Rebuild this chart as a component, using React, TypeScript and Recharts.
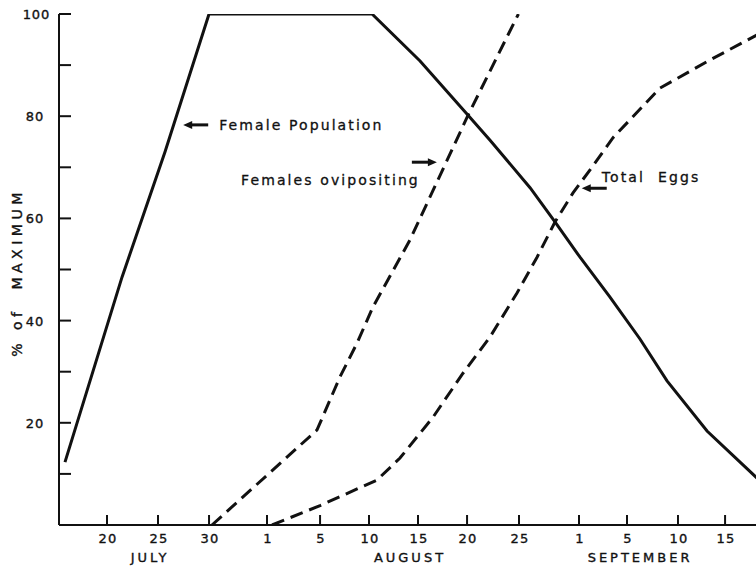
import React from "react";
import { LineChart, Line, XAxis, YAxis, ReferenceDot } from "recharts";

// x runs in "axis units" of the original drawing (about one day each,
// but the hand-drawn tick spacing is uneven, so ticks carry their own position)
const dayTicks = [4.74, 9.77, 14.81, 20.53, 25.77, 30.6, 35.44, 40.28, 45.41, 51.33, 56.07, 61.1, 65.75];
const dayLabels = ["20", "25", "30", "1", "5", "10", "15", "20", "25", "1", "5", "10", "15"];
const monthTicks = [8.8, 34.45, 57.16];
const monthLabels = ["JULY", "AUGUST", "SEPTEMBER"];
const pctTicks = [10, 20, 30, 40, 50, 60, 70, 80, 90, 100];
const rightTicks = [10, 20, 30, 40, 50, 60, 70, 80, 90];

const femalePopulation = [
  { x: 0.59, y: 12.3 },
  { x: 6.22, y: 48.5 },
  { x: 10.46, y: 73 },
  { x: 14.81, y: 100 },
  { x: 30.9, y: 100 },
  { x: 35.64, y: 90.8 },
  { x: 40.38, y: 80.2 },
  { x: 42.55, y: 75.3 },
  { x: 46.5, y: 66 },
  { x: 48.96, y: 59.3 },
  { x: 51.43, y: 52.4 },
  { x: 54.39, y: 44.6 },
  { x: 57.35, y: 36.4 },
  { x: 60.02, y: 28.2 },
  { x: 63.97, y: 18.4 },
  { x: 69.0, y: 9 },
];

const femalesOvipositing = [
  { x: 15.1, y: 0 },
  { x: 25.47, y: 18.6 },
  { x: 27.74, y: 29 },
  { x: 29.42, y: 35.6 },
  { x: 31.0, y: 42.7 },
  { x: 34.65, y: 55.8 },
  { x: 40.38, y: 80.2 },
  { x: 45.35, y: 100 },
];

const totalEggs = [
  { x: 21.03, y: 0 },
  { x: 25.77, y: 3.8 },
  { x: 31.39, y: 8.8 },
  { x: 33.66, y: 13.1 },
  { x: 36.92, y: 21.1 },
  { x: 39.88, y: 29.7 },
  { x: 42.55, y: 36.8 },
  { x: 45.21, y: 45.4 },
  { x: 47.19, y: 52.4 },
  { x: 48.96, y: 59.3 },
  { x: 50.74, y: 65 },
  { x: 52.42, y: 69.5 },
  { x: 54.69, y: 75.8 },
  { x: 59.33, y: 85.5 },
  { x: 64.26, y: 91 },
  { x: 69.0, y: 96 },
];

const FONT = "'DejaVu Sans', Arial, sans-serif";
const INK = "#111";

const LeftTick = (props: any) => {
  const { x, y, payload } = props;
  const v = payload.value;
  return (
    <g>
      <line x1={x} x2={x + 12} y1={y} y2={y} stroke={INK} strokeWidth={2} />
      {v % 20 === 0 && (
        <text
          x={v === 100 ? x - 9 : x - 15}
          y={y + 5}
          textAnchor="end"
          fontFamily={FONT}
          fontSize={13}
          letterSpacing={0.8}
          fill={INK}
          stroke={INK}
          strokeWidth={0.35}
        >
          {v}
        </text>
      )}
    </g>
  );
};

const RightTick = (props: any) => {
  const { x, y } = props;
  return <line x1={x - 9} x2={x} y1={y} y2={y} stroke={INK} strokeWidth={2} />;
};

const BottomTick = (props: any) => {
  const { x, y, index } = props;
  return (
    <g>
      <line x1={x} x2={x} y1={y - 10} y2={y} stroke={INK} strokeWidth={2} />
      <text
        x={x + 1}
        y={y + 18}
        textAnchor="middle"
        fontFamily={FONT}
        fontSize={13}
        letterSpacing={1.2}
        fill={INK}
        stroke={INK}
        strokeWidth={0.35}
      >
        {dayLabels[index]}
      </text>
    </g>
  );
};

const TopTick = (props: any) => {
  const { x, y } = props;
  return <line x1={x} x2={x} y1={y} y2={y + 11} stroke={INK} strokeWidth={2} />;
};

const MonthTick = (props: any) => {
  const { x, y, index } = props;
  return (
    <text
      x={x + 2}
      y={y + 13}
      textAnchor="middle"
      fontFamily={FONT}
      fontSize={13}
      letterSpacing={3}
      fill={INK}
      stroke={INK}
      strokeWidth={0.35}
    >
      {monthLabels[index]}
    </text>
  );
};

// arrow with its tip at (cx, cy); dir 1 points right, -1 points left
const Note = (props: any) => {
  const { cx, cy, dir, text, tx, ty, anchor } = props;
  if (cx == null || cy == null) return null;
  const back = -dir;
  return (
    <g>
      <line
        x1={cx + back * 6}
        x2={cx + back * 25}
        y1={cy}
        y2={cy}
        stroke={INK}
        strokeWidth={3}
      />
      <polygon
        points={`${cx},${cy} ${cx + back * 9},${cy - 4} ${cx + back * 9},${cy + 4}`}
        fill={INK}
      />
      <text
        x={cx + tx}
        y={cy + ty}
        textAnchor={anchor}
        fontFamily={FONT}
        fontSize={14}
        letterSpacing={2.1}
        fill={INK}
        stroke={INK}
        strokeWidth={0.3}
        style={{ whiteSpace: "pre" }}
      >
        {text}
      </text>
    </g>
  );
};

const YLabel = (props: any) => {
  const vb = props.viewBox || { x: 0, y: 14, width: 59, height: 511 };
  const cx = 17;
  const cy = vb.y + vb.height / 2 + 3;
  return (
    <text
      x={cx}
      y={cy}
      transform={`rotate(-90 ${cx} ${cy})`}
      textAnchor="middle"
      dominantBaseline="central"
      fontFamily={FONT}
      fontSize={14}
      letterSpacing={4.5}
      fill={INK}
      stroke={INK}
      strokeWidth={0.35}
      style={{ whiteSpace: "pre" }}
    >
      % of  MAXIMUM
    </text>
  );
};

export default function App() {
  return (
    <div
      style={{
        position: "absolute",
        left: 0,
        top: 0,
        width: 756,
        height: 566,
        overflow: "hidden",
        background: "#fff",
      }}
    >
      <LineChart width={764} height={566} margin={{ top: 14, right: 6, bottom: 0, left: 0 }}>
        <XAxis
          xAxisId="b"
          dataKey="x"
          type="number"
          orientation="bottom"
          domain={[0, 69]}
          ticks={dayTicks}
          interval={0}
          allowDataOverflow
          height={24}
          tickSize={0}
          tickMargin={0}
          tickLine={false}
          axisLine={{ stroke: INK, strokeWidth: 2 }}
          tick={<BottomTick />}
        />
        <XAxis
          xAxisId="m"
          dataKey="x"
          type="number"
          orientation="bottom"
          domain={[0, 69]}
          ticks={monthTicks}
          interval={0}
          allowDataOverflow
          height={17}
          tickSize={0}
          tickMargin={0}
          tickLine={false}
          axisLine={false}
          tick={<MonthTick />}
        />
        <XAxis
          xAxisId="t"
          dataKey="x"
          type="number"
          orientation="top"
          domain={[0, 69]}
          ticks={dayTicks}
          interval={0}
          allowDataOverflow
          height={0}
          tickSize={0}
          tickMargin={0}
          tickLine={false}
          axisLine={{ stroke: INK, strokeWidth: 2 }}
          tick={<TopTick />}
        />
        <YAxis
          yAxisId="l"
          type="number"
          orientation="left"
          domain={[0, 100]}
          ticks={pctTicks}
          interval={0}
          allowDataOverflow
          width={59}
          tickSize={0}
          tickMargin={0}
          tickLine={false}
          axisLine={{ stroke: INK, strokeWidth: 2 }}
          tick={<LeftTick />}
          label={{ content: (p: any) => <YLabel {...p} /> }}
        />
        <YAxis
          yAxisId="r"
          type="number"
          orientation="right"
          domain={[0, 100]}
          ticks={rightTicks}
          interval={0}
          allowDataOverflow
          width={0}
          tickSize={0}
          tickMargin={0}
          tickLine={false}
          axisLine={{ stroke: INK, strokeWidth: 2 }}
          tick={<RightTick />}
        />
        <Line
          data={femalePopulation}
          dataKey="y"
          xAxisId="b"
          yAxisId="l"
          type="linear"
          stroke={INK}
          strokeWidth={3}
          dot={false}
          isAnimationActive={false}
        />
        <Line
          data={femalesOvipositing}
          dataKey="y"
          xAxisId="b"
          yAxisId="l"
          type="linear"
          stroke={INK}
          strokeWidth={3}
          strokeDasharray="13 7"
          dot={false}
          isAnimationActive={false}
        />
        <Line
          data={totalEggs}
          dataKey="y"
          xAxisId="b"
          yAxisId="l"
          type="linear"
          stroke={INK}
          strokeWidth={3}
          strokeDasharray="13 7"
          dot={false}
          isAnimationActive={false}
        />
        <ReferenceDot
          xAxisId="b"
          yAxisId="l"
          x={12.26}
          y={78.3}
          r={0}
          shape={(p: any) => (
            <Note {...p} dir={-1} text="Female Population" tx={36} ty={5} anchor="start" />
          )}
        />
        <ReferenceDot
          xAxisId="b"
          yAxisId="l"
          x={37.3}
          y={71.0}
          r={0}
          shape={(p: any) => (
            <Note {...p} dir={1} text="Females ovipositing" tx={-17} ty={23} anchor="end" />
          )}
        />
        <ReferenceDot
          xAxisId="b"
          yAxisId="l"
          x={51.6}
          y={65.9}
          r={0}
          shape={(p: any) => (
            <Note {...p} dir={-1} text="Total  Eggs" tx={20} ty={-6} anchor="start" />
          )}
        />
      </LineChart>
    </div>
  );
}
